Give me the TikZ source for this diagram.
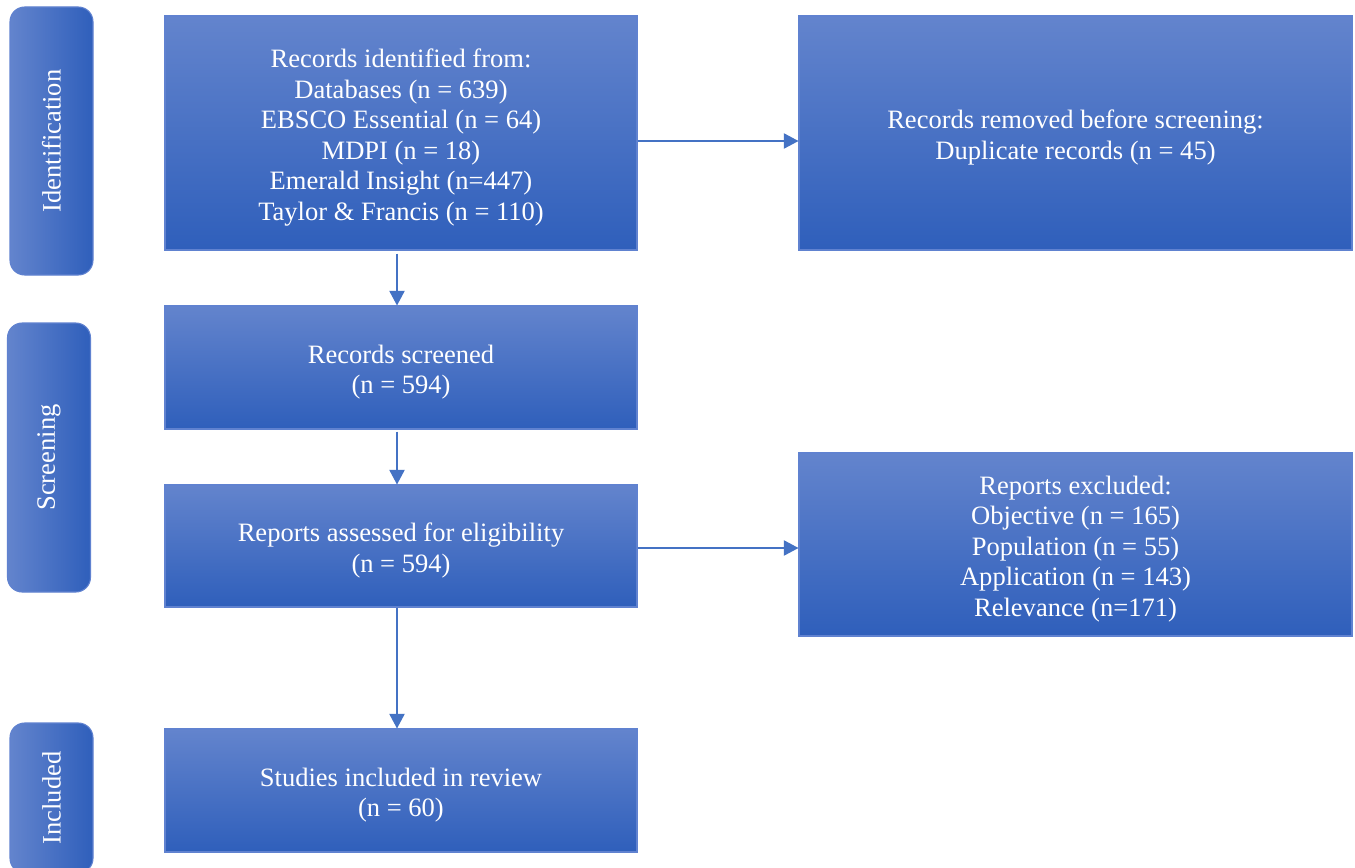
\documentclass[tikz,border=0pt]{standalone}
\usepackage{fontspec}
\setmainfont{Liberation Serif}
\usetikzlibrary{arrows.meta,calc}
\definecolor{boxtop}{RGB}{99,132,205}
\definecolor{boxbot}{RGB}{47,95,187}
\definecolor{boxline}{RGB}{96,130,208}
\definecolor{arrowc}{RGB}{68,114,196}
\tikzset{
  flowbox/.style={draw=boxline, line width=0.8pt, top color=boxtop, bottom color=boxbot,
    inner sep=0pt},
  boxtext/.style={text=white, align=center, inner sep=0pt, yshift=-3.4pt,
    font=\fontsize{19.9}{22.9}\selectfont},
  tabbox/.style={draw=boxline, line width=0.8pt, left color=boxtop, right color=boxbot,
    rounded corners=11pt, inner sep=0pt, minimum width=62.25pt},
  tabtext/.style={rotate=90, text=white, font=\fontsize{19.9}{22.9}\selectfont},
  arr/.style={draw=arrowc, line width=1pt, -{Triangle[width=11.5pt,length=11pt]}, arrowc}
}
\begin{document}
\begin{tikzpicture}[x=0.75pt,y=-0.75pt]
\useasboundingbox (0,0) rectangle (1355,867);
\fill[white] (0,0) rectangle (1355,867);

% phase tabs
\node[tabbox, minimum height=201pt] (t1) at (51.5,141) {};
\node[tabtext] (t1l) at (t1.center) {Identification};
\node[tabbox, minimum height=201.75pt] (t2) at (49,457.5) {};
\node[tabtext] (t2l) at (t2.center) {Screening};
\begin{scope}
\clip (0,0) rectangle (1355,867);
\node[tabbox, minimum height=112.5pt] (t3) at (51.5,798) {};
\end{scope}
\node[tabtext] (t3l) at (t3.center) {Included};

% boxes
\node[flowbox, minimum width=354pt, minimum height=175.5pt] (b1) at (401,133) {};
\node[boxtext] (b1t) at (b1.center)
  {Records identified from:\\Databases (n = 639)\\EBSCO Essential (n = 64)\\MDPI (n = 18)\\Emerald Insight (n=447)\\Taylor \& Francis (n = 110)};
\node[flowbox, minimum width=414.75pt, minimum height=175.5pt] (b2) at (1075.5,133) {};
\node[boxtext] (b2t) at (b2.center)
  {Records removed before screening:\\Duplicate records (n = 45)};
\node[flowbox, minimum width=354pt, minimum height=92.25pt] (b3) at (401,367.5) {};
\node[boxtext] (b3t) at (b3.center) {Records screened\\(n = 594)};
\node[flowbox, minimum width=354pt, minimum height=91.5pt] (b4) at (401,546) {};
\node[boxtext] (b4t) at (b4.center) {Reports assessed for eligibility\\(n = 594)};
\node[flowbox, minimum width=414.75pt, minimum height=137.25pt] (b5) at (1075.5,544.5) {};
\node[boxtext] (b5t) at (b5.center)
  {Reports excluded:\\Objective (n = 165)\\Population (n = 55)\\Application (n = 143)\\Relevance (n=171)};
\node[flowbox, minimum width=354pt, minimum height=92.25pt] (b6) at (401,790.5) {};
\node[boxtext] (b6t) at (b6.center) {Studies included in review\\(n = 60)};

% connectors
\path (b1.south -| 397,0) ++(0,3) coordinate (s13);
\path (b3.south -| 397,0) ++(0,2) coordinate (s34);
\draw[arr] (b1.east |- 0,141) -- (b2.west |- 0,141);
\draw[arr] (s13) -- (b3.north -| 397,0);
\draw[arr] (s34) -- (b4.north -| 397,0);
\draw[arr] (b4.east |- 0,548) -- (b5.west |- 0,548);
\draw[arr] (b4.south -| 397,0) -- (b6.north -| 397,0);
\end{tikzpicture}
\end{document}
